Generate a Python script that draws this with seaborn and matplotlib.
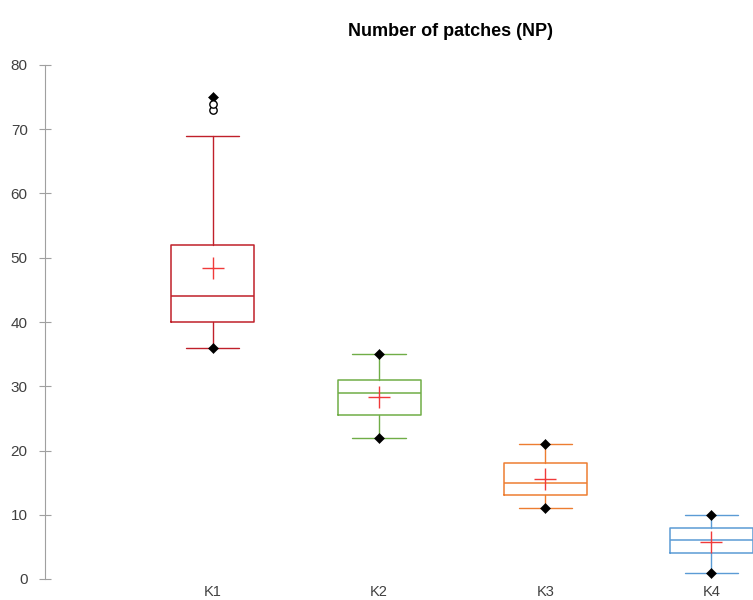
import matplotlib
matplotlib.use("Agg")
import matplotlib.pyplot as plt
import seaborn as sns
import pandas as pd

# summary statistics
groups = ["K1", "K2", "K3", "K4"]
q1 = [40, 25.5, 13, 4]
median = [44, 29, 15, 6]
q3 = [52, 31, 18, 8]
whisker_low = [36, 22, 11, 1]
whisker_high = [69, 35, 21, 10]
means = [48.4, 28.3, 15.6, 5.8]
minimum = [36, 22, 11, 1]
maximum = [75, 35, 21, 10]
outlier_group = ["K1", "K1"]
outlier_value = [73, 74]

colors = ["#C0202A", "#70AD47", "#ED7D31", "#5B9BD5"]

sns.set_style("white")
plt.rcParams["font.family"] = ["Liberation Sans", "DejaVu Sans"]

fig = plt.figure(figsize=(7.53, 6.0), dpi=100)
ax = fig.add_axes([45 / 753, 1 - 579 / 600, 1 - 45 / 753, (579 - 65) / 600])

pos = list(range(len(groups)))
stats = []
for i, g in enumerate(groups):
    stats.append({"label": g, "q1": q1[i], "med": median[i], "q3": q3[i],
                  "whislo": whisker_low[i], "whishi": whisker_high[i], "fliers": []})

for i, st in enumerate(stats):
    c = colors[i]
    ax.bxp([st], positions=[pos[i]], widths=0.5, showfliers=False,
           boxprops=dict(color=c, lw=1.1), medianprops=dict(color=c, lw=1.1),
           whiskerprops=dict(color=c, lw=1.0), capprops=dict(color=c, lw=1.0),
           capwidths=0.32)

extremes = pd.DataFrame({"x": pos + pos, "y": minimum + maximum})
sns.scatterplot(data=extremes, x="x", y="y", marker="D", s=26, color="black",
                edgecolor="black", ax=ax, zorder=5)
outl = pd.DataFrame({"x": [groups.index(g) for g in outlier_group], "y": outlier_value})
sns.scatterplot(data=outl, x="x", y="y", marker="o", s=28, facecolor="white",
                edgecolor="black", linewidth=1, ax=ax, zorder=5)
mdf = pd.DataFrame({"x": pos, "y": means})
sns.scatterplot(data=mdf, x="x", y="y", marker="+", s=240, color="#F03A3A",
                linewidth=1.0, ax=ax, zorder=6)

ax.set_xlim(-1.01, 3.25)
ax.set_ylim(0, 80)
ax.set_yticks(range(0, 81, 10))
ax.set_xticks(pos)
ax.set_xticklabels(groups)
ax.set_xlabel("")
ax.set_ylabel("")
for s in ["top", "right", "bottom"]:
    ax.spines[s].set_visible(False)
ax.spines["left"].set_color("#A0A0A0")
ax.tick_params(axis="y", left=True, direction="inout", length=9, width=0.8,
               color="#A0A0A0", labelsize=11, labelcolor="#404040", pad=8)
ax.tick_params(axis="x", bottom=False, length=0, labelsize=10.5,
               labelcolor="#404040", pad=4)

fig.text(450 / 753, 1 - 32 / 600, "Number of patches (NP)", ha="center", va="center",
         fontsize=13, fontweight="bold", color="black")

fig.savefig("out.png", dpi=100)
